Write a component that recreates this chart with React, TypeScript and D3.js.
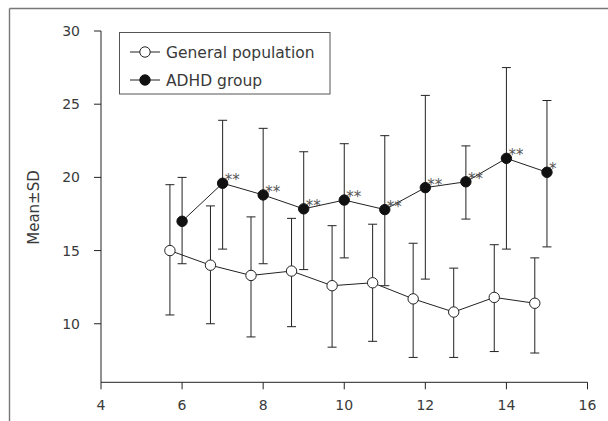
import React from "react";
import * as d3 from "d3";

const genAges = [5.7, 6.7, 7.7, 8.7, 9.7, 10.7, 11.7, 12.7, 13.7, 14.7];
const genMean = [15.0, 14.0, 13.3, 13.6, 12.6, 12.8, 11.7, 10.8, 11.8, 11.4];
const genUpper = [19.5, 18.05, 17.3, 17.2, 16.7, 16.8, 15.5, 13.8, 15.4, 14.5];
const genLower = [10.6, 10.0, 9.1, 9.8, 8.4, 8.8, 7.7, 7.7, 8.1, 8.0];

const adhdAges = [6, 7, 8, 9, 10, 11, 12, 13, 14, 15];
const adhdMean = [17.0, 19.6, 18.8, 17.85, 18.45, 17.8, 19.3, 19.7, 21.3, 20.35];
const adhdUpper = [20.0, 23.9, 23.35, 21.75, 22.3, 22.85, 25.6, 22.15, 27.5, 25.25];
const adhdLower = [14.1, 15.1, 14.1, 13.7, 14.5, 12.6, 13.05, 17.15, 15.1, 15.25];
const adhdSig = ["", "**", "**", "**", "**", "**", "**", "**", "**", "*"];

const xTicks = [4, 6, 8, 10, 12, 14, 16];
const yTicks = [10, 15, 20, 25, 30];

const seriesNames = ["General population", "ADHD group"];

const FONT = "'DejaVu Sans', sans-serif";
const TXT = "#3a3a3a";

export default function App() {
  const x = d3.scaleLinear().domain([4, 16]).range([101, 587.5]);
  const y = d3.scaleLinear().domain([6, 30]).range([382.3, 31]);
  const line = d3.line<[number, number]>().x((d) => x(d[0])).y((d) => y(d[1]));

  const gen = genAges.map((a, i) => ({ a, m: genMean[i], u: genUpper[i], l: genLower[i] }));
  const adhd = adhdAges.map((a, i) => ({ a, m: adhdMean[i], u: adhdUpper[i], l: adhdLower[i], s: adhdSig[i] }));
  const cap = 4.5;
  const r = 5.2;

  const errBars = (data: { a: number; u: number; l: number }[], key: string) =>
    data.map((d, i) => (
      <g key={key + i} stroke="#222" strokeWidth={1} fill="none">
        <line x1={x(d.a)} x2={x(d.a)} y1={y(d.u)} y2={y(d.l)} />
        <line x1={x(d.a) - cap} x2={x(d.a) + cap} y1={y(d.u)} y2={y(d.u)} />
        <line x1={x(d.a) - cap} x2={x(d.a) + cap} y1={y(d.l)} y2={y(d.l)} />
      </g>
    ));

  return (
    <svg width={608} height={421} style={{ position: "absolute", left: 0, top: 0, background: "#fff" }}>
      {/* outer frame */}
      <line x1={9.5} x2={608} y1={8.5} y2={8.5} stroke="#777" strokeWidth={1.6} />
      <line x1={9.5} x2={9.5} y1={8.5} y2={421} stroke="#777" strokeWidth={1.4} />

      {/* axes */}
      <line x1={x(4)} x2={x(4)} y1={y(30)} y2={y(6)} stroke="#222" strokeWidth={1} />
      <line x1={x(4)} x2={x(16)} y1={y(6)} y2={y(6)} stroke="#222" strokeWidth={1} />
      {yTicks.map((t) => (
        <g key={"yt" + t}>
          <line x1={x(4) - 7} x2={x(4)} y1={y(t)} y2={y(t)} stroke="#222" strokeWidth={1} />
          <text x={80} y={y(t)} dy="0.36em" textAnchor="end" fontFamily={FONT} fontSize={14} fill={TXT}>
            {t}
          </text>
        </g>
      ))}
      {xTicks.map((t) => (
        <g key={"xt" + t}>
          <line x1={x(t)} x2={x(t)} y1={y(6)} y2={y(6) + 7} stroke="#222" strokeWidth={1} />
          <text x={x(t)} y={410} textAnchor="middle" fontFamily={FONT} fontSize={14} fill={TXT}>
            {t}
          </text>
        </g>
      ))}
      <text
        transform={`translate(38.5,207.5) rotate(-90)`}
        textAnchor="middle"
        fontFamily={FONT}
        fontSize={15}
        fill={TXT}
      >
        Mean±SD
      </text>

      {/* error bars */}
      {errBars(gen, "g")}
      {errBars(adhd, "a")}

      {/* lines */}
      <path d={line(gen.map((d) => [d.a, d.m]))!} fill="none" stroke="#222" strokeWidth={1} />
      <path d={line(adhd.map((d) => [d.a, d.m]))!} fill="none" stroke="#222" strokeWidth={1} />

      {/* markers */}
      {gen.map((d, i) => (
        <circle key={"gc" + i} cx={x(d.a)} cy={y(d.m)} r={r} fill="#fff" stroke="#222" strokeWidth={1} />
      ))}
      {adhd.map((d, i) => (
        <circle key={"ac" + i} cx={x(d.a)} cy={y(d.m)} r={r} fill="#111" stroke="#111" strokeWidth={1} />
      ))}
      {adhd.map((d, i) =>
        d.s ? (
          <text key={"s" + i} x={x(d.a) + 2} y={y(d.m) + 2} fontFamily={FONT} fontSize={15} fill="#555">
            {d.s}
          </text>
        ) : null
      )}

      {/* legend */}
      <rect x={119.5} y={32.5} width={210.5} height={61.5} fill="#fff" stroke="#555" strokeWidth={1} />
      {seriesNames.map((n, i) => (
        <g key={"lg" + i} transform={`translate(0,${52 + i * 28})`}>
          <line x1={130} x2={160} y1={0} y2={0} stroke="#222" strokeWidth={1} />
          <circle cx={145} cy={0} r={r} fill={i === 0 ? "#fff" : "#111"} stroke={i === 0 ? "#222" : "#111"} strokeWidth={1} />
          <text x={166} y={0} dy="0.36em" fontFamily={FONT} fontSize={15.5} fill={TXT}>
            {n}
          </text>
        </g>
      ))}
    </svg>
  );
}
